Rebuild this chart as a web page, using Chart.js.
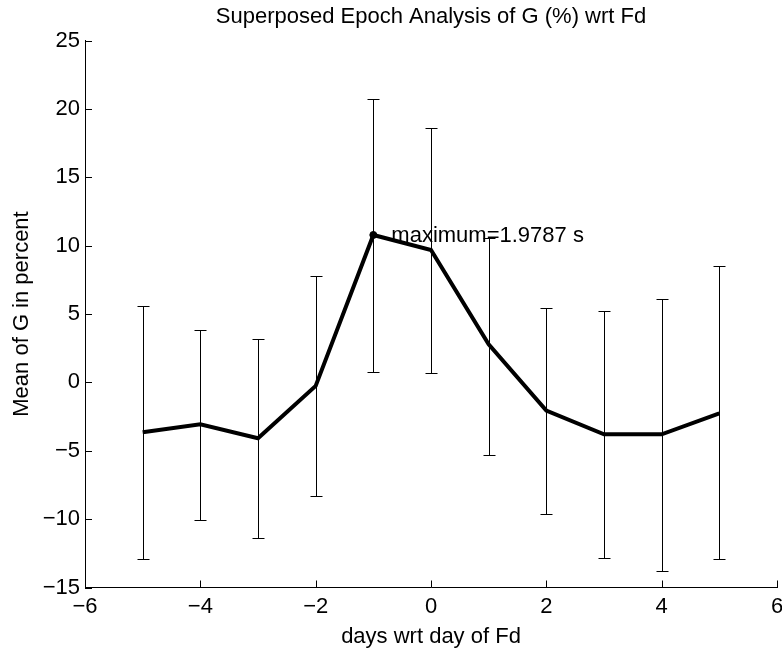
<!DOCTYPE html>
<html>
<head>
<meta charset="utf-8">
<script src="https://cdn.jsdelivr.net/npm/chart.js@4.4.1/dist/chart.umd.min.js"></script>
<style>
  html, body { margin: 0; padding: 0; background: #fff; }
  #wrap { width: 782px; height: 655px; }
</style>
</head>
<body>
<div id="wrap"><canvas id="c"></canvas></div>
<script>
// days relative to the Fd event
const days = [-5, -4, -3, -2, -1, 0, 1, 2, 3, 4, 5];
// mean of G (%) and error bar ends
const meanG = [-3.65, -3.06, -4.09, -0.26, 10.78, 9.68, 2.79, -2.07, -3.80, -3.80, -2.26];
const upperG = [5.59, 3.85, 3.15, 7.76, 20.72, 18.63, 10.56, 5.46, 5.20, 6.08, 8.51];
const lowerG = [-12.89, -10.06, -11.40, -8.31, 0.74, 0.69, -5.33, -9.65, -12.86, -13.77, -12.89];

const maxDay = -1;
const maxLabel = 'maximum=1.9787 s';
const chartTitle = 'Superposed Epoch Analysis of G (%) wrt Fd';

const xTicks = [-6, -4, -2, 0, 2, 4, 6];
const yTicks = [-15, -10, -5, 0, 5, 10, 15, 20, 25];

const FONT = "'Liberation Sans', Arial, Helvetica, sans-serif";
const FS = 22;

const minus = v => String(v).replace('-', '\u2212');

const errorBars = {
  id: 'errorBars',
  beforeDatasetsDraw(chart) {
    const {ctx, scales: {x, y}} = chart;
    ctx.save();
    ctx.strokeStyle = '#000';
    ctx.lineWidth = 1;
    days.forEach((d, i) => {
      const px = Math.round(x.getPixelForValue(d)) + 0.5;
      const top = Math.round(y.getPixelForValue(upperG[i])) + 0.5;
      const bot = Math.round(y.getPixelForValue(lowerG[i])) + 0.5;
      ctx.beginPath();
      ctx.moveTo(px, top);
      ctx.lineTo(px, bot);
      ctx.moveTo(px - 6, top);
      ctx.lineTo(px + 6, top);
      ctx.moveTo(px - 6, bot);
      ctx.lineTo(px + 6, bot);
      ctx.stroke();
    });
    ctx.restore();
  },
  afterDraw(chart) {
    const {ctx, scales: {x, y}, chartArea} = chart;
    ctx.save();
    // inward tick marks, matlab style
    ctx.strokeStyle = '#000';
    ctx.lineWidth = 1;
    ctx.beginPath();
    xTicks.forEach(t => {
      const px = Math.round(x.getPixelForValue(t)) + 0.5;
      ctx.moveTo(px, chartArea.bottom);
      ctx.lineTo(px, chartArea.bottom - 7);
    });
    yTicks.forEach(t => {
      const py = Math.round(y.getPixelForValue(t)) + 0.5;
      ctx.moveTo(chartArea.left, py);
      ctx.lineTo(chartArea.left + 7, py);
    });
    ctx.stroke();
    ctx.fillStyle = '#000';
    ctx.font = FS + 'px ' + FONT;
    ctx.textBaseline = 'middle';
    // title, centred over the axes like matlab does
    ctx.textAlign = 'center';
    ctx.fillText(chartTitle, (chartArea.left + chartArea.right) / 2, 17);
    // annotation at the maximum
    const i = days.indexOf(maxDay);
    const px = x.getPixelForValue(maxDay);
    const py = y.getPixelForValue(meanG[i]);
    ctx.textAlign = 'left';
    ctx.fillText(maxLabel, px + 18, py + 1);
    ctx.restore();
  }
};

new Chart(document.getElementById('c'), {
  type: 'line',
  data: {
    datasets: [{
      data: days.map((d, i) => ({x: d, y: meanG[i]})),
      borderColor: '#000',
      borderWidth: 4,
      pointRadius: 0,
      tension: 0,
      fill: false
    }, {
      data: [{x: maxDay, y: meanG[days.indexOf(maxDay)]}],
      showLine: false,
      pointRadius: 3.5,
      pointBackgroundColor: '#000',
      pointBorderColor: '#000'
    }]
  },
  options: {
    responsive: true,
    maintainAspectRatio: false,
    animation: false,
    events: [],
    layout: { padding: { top: 40.5, left: 0, right: 0, bottom: 0 } },
    plugins: {
      legend: { display: false },
      tooltip: { enabled: false },
      title: { display: false }
    },
    scales: {
      x: {
        type: 'linear',
        min: -6,
        max: 6,
        grid: { display: false, drawTicks: false },
        border: { display: true, color: '#000', width: 1 },
        ticks: {
          stepSize: 2,
          color: '#000',
          padding: 6,
          maxRotation: 0,
          font: { family: FONT, size: FS },
          callback: v => minus(v)
        },
        title: {
          display: true,
          text: 'days wrt day of Fd',
          color: '#000',
          font: { family: FONT, size: FS },
          padding: { top: 0, bottom: 5 }
        },
        afterFit(scale) {
          scale.height = 67.5;
          scale.paddingLeft = 0;
          scale.paddingRight = 0;
        }
      },
      y: {
        min: -15,
        max: 25,
        grid: { display: false, drawTicks: false },
        border: { display: true, color: '#000', width: 1 },
        ticks: {
          stepSize: 5,
          color: '#000',
          padding: 5,
          font: { family: FONT, size: FS },
          callback: v => minus(v)
        },
        title: {
          display: true,
          text: 'Mean of G in percent',
          color: '#000',
          font: { family: FONT, size: FS },
          padding: { top: 9, bottom: 0 }
        },
        afterFit(scale) {
          scale.width = 85;
          scale.paddingTop = 0;
          scale.paddingBottom = 0;
        }
      }
    }
  },
  plugins: [errorBars]
});
</script>
</body>
</html>
